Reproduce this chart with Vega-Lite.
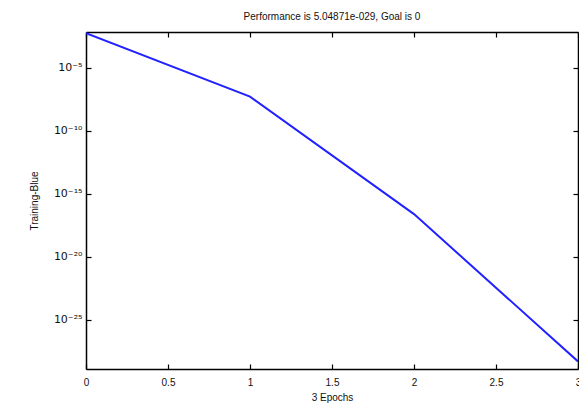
{
  "$schema": "https://vega.github.io/schema/vega-lite/v6.json",
  "autosize": {"type": "none"},
  "padding": {"left": 86, "top": 32, "right": 1, "bottom": 45},
  "width": 492,
  "height": 337,
  "background": "white",
  "title": {
    "text": "Performance is 5.04871e-029, Goal is 0",
    "font": "Liberation Sans",
    "fontSize": 10,
    "fontWeight": "normal",
    "color": "#111111",
    "offset": 9,
    "anchor": "middle"
  },
  "config": {
    "view": {"stroke": null},
    "axis": {
      "domainColor": "black",
      "domainWidth": 1.5,
      "tickColor": "black",
      "tickWidth": 1.2,
      "tickSize": -5,
      "grid": false,
      "labelFont": "Liberation Sans",
      "labelFontSize": 10,
      "labelColor": "#111111",
      "titleFont": "Liberation Sans",
      "titleFontSize": 10,
      "titleFontWeight": "normal",
      "titleColor": "#111111"
    }
  },
  "data": {
    "values": [
      {"epoch": 0, "perf": 0.0056},
      {"epoch": 1, "perf": 5.2e-8},
      {"epoch": 2, "perf": 2.5e-17},
      {"epoch": 3, "perf": 5.04871e-29}
    ]
  },
  "layer": [
    {
      "mark": {"type": "line", "color": "#2222ff", "strokeWidth": 2, "clip": true},
      "encoding": {
        "x": {
          "field": "epoch", "type": "quantitative",
          "scale": {"domain": [0, 3], "nice": false, "zero": false},
          "axis": {
            "values": [0, 0.5, 1, 1.5, 2, 2.5, 3],
            "labelExpr": "'' + datum.value",
            "labelPadding": 13,
            "labelFlush": false,
            "title": "3 Epochs",
            "titlePadding": 5
          }
        },
        "y": {
          "field": "perf", "type": "quantitative",
          "scale": {"type": "log", "domain": [1.26e-29, 0.0071], "nice": false},
          "axis": {
            "values": [1e-5, 1e-10, 1e-15, 1e-20, 1e-25],
            "labelExpr": "datum.value < 1e-22 ? '10⁻²⁵' : datum.value < 1e-17 ? '10⁻²⁰' : datum.value < 1e-12 ? '10⁻¹⁵' : datum.value < 1e-7 ? '10⁻¹⁰' : '10⁻⁵'",
            "labelPadding": 9,
            "labelFont": "DejaVu Sans",
            "labelFontSize": 11,
            "title": "Training-Blue",
            "titlePadding": 14
          }
        }
      }
    },
    {
      "mark": {"type": "line", "opacity": 0},
      "encoding": {
        "x": {
          "field": "epoch", "type": "quantitative",
          "axis": {"orient": "top", "values": [0, 0.5, 1, 1.5, 2, 2.5, 3], "labels": false, "title": null}
        },
        "y": {
          "field": "perf", "type": "quantitative",
          "axis": {"orient": "right", "values": [1e-5, 1e-10, 1e-15, 1e-20, 1e-25], "labels": false, "title": null}
        }
      }
    }
  ],
  "resolve": {"axis": {"x": "independent", "y": "independent"}}
}
